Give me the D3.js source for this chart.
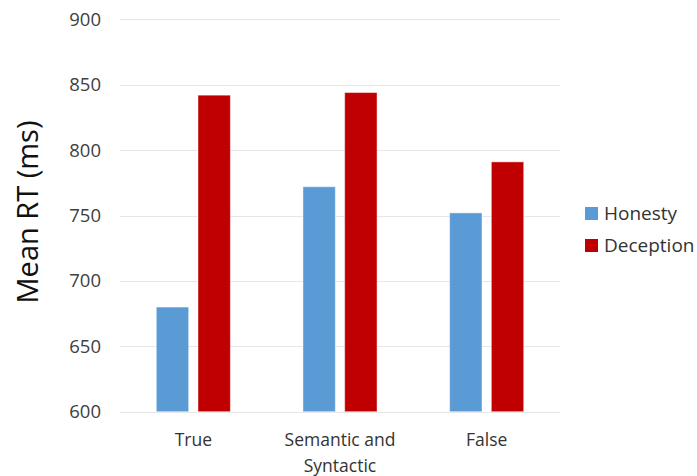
<!DOCTYPE html>
<html>
<head>
<meta charset="utf-8">
<script src="https://cdn.jsdelivr.net/npm/d3@7"></script>
<style>
  html, body { margin: 0; padding: 0; background: #fff; }
  svg { display: block; font-family: "Open Sans", "Noto Sans", sans-serif; }
</style>
</head>
<body>
<svg id="chart" width="697" height="476"></svg>
<script>
// Mean response times by statement type and response condition
const categories = ["True", "Semantic and Syntactic", "False"];
const categoryLines = [["True"], ["Semantic and", "Syntactic"], ["False"]];
const seriesNames = ["Honesty", "Deception"];
const honesty = [680, 772, 752];
const deception = [842, 844, 791];
const yTicks = [600, 650, 700, 750, 800, 850, 900];
const colors = ["#5B9BD5", "#C00000"];

const svg = d3.select("#chart");
const plot = { left: 120, right: 560, top: 19.3, bottom: 411.7 };

const y = d3.scaleLinear().domain([600, 900]).range([plot.bottom, plot.top]);
const x0 = d3.scaleBand().domain(categories).range([plot.left, plot.right]).padding(0);
const x1 = d3.scaleBand().domain(seriesNames).range([0, x0.bandwidth()])
  .paddingInner(0.224).paddingOuter(0.87);

// gridlines
svg.append("g")
  .selectAll("line")
  .data(yTicks)
  .join("line")
  .attr("x1", plot.left).attr("x2", plot.right)
  .attr("y1", d => Math.round(y(d)) + 0.5).attr("y2", d => Math.round(y(d)) + 0.5)
  .attr("stroke", "#E6E6E6").attr("stroke-width", 1);

// y axis labels
const yAxis = d3.axisLeft(y).tickValues(yTicks).tickSize(0).tickPadding(0);
const gy = svg.append("g").attr("transform", "translate(101,0)").call(yAxis);
gy.select(".domain").remove();
gy.selectAll("text")
  .attr("font-size", "18.5px")
  .attr("font-family", "'Open Sans', sans-serif")
  .attr("fill", "#404040");

// y axis title
svg.append("text")
  .attr("transform", "translate(38,212) rotate(-90)")
  .attr("text-anchor", "middle")
  .attr("font-size", "29px")
  .attr("fill", "#111")
  .text("Mean RT (ms)");

// bars
const rows = categories.map((c, i) => ({ cat: c, values: [honesty[i], deception[i]] }));
const groups = svg.append("g").selectAll("g")
  .data(rows)
  .join("g")
  .attr("transform", d => `translate(${x0(d.cat)},0)`);

groups.selectAll("rect")
  .data(d => d.values.map((v, j) => ({ name: seriesNames[j], value: v, j })))
  .join("rect")
  .attr("x", d => x1(d.name))
  .attr("width", x1.bandwidth())
  .attr("y", d => y(d.value))
  .attr("height", d => y(600) - y(d.value))
  .attr("fill", d => colors[d.j])
  .attr("stroke", "rgba(255,255,255,0.45)")
  .attr("stroke-width", 1);

// x axis labels
const xLabels = svg.append("g");
categories.forEach((c, i) => {
  const t = xLabels.append("text")
    .attr("x", x0(c) + x0.bandwidth() / 2)
    .attr("y", 446)
    .attr("text-anchor", "middle")
    .attr("font-size", "17.5px")
    .attr("fill", "#333");
  categoryLines[i].forEach((line, k) => {
    t.append("tspan")
      .attr("x", x0(c) + x0.bandwidth() / 2)
      .attr("dy", k === 0 ? 0 : 26)
      .text(line);
  });
});

// legend
const legend = svg.append("g").attr("transform", "translate(585,0)");
seriesNames.forEach((name, i) => {
  const cy = 213.5 + i * 32;
  legend.append("rect")
    .attr("x", 0).attr("y", cy - 6.5)
    .attr("width", 13).attr("height", 13)
    .attr("fill", colors[i]);
  legend.append("text")
    .attr("x", 19).attr("y", cy + 6.5)
    .attr("font-size", "19px")
    .attr("fill", "#333")
    .text(name);
});
</script>
</body>
</html>
